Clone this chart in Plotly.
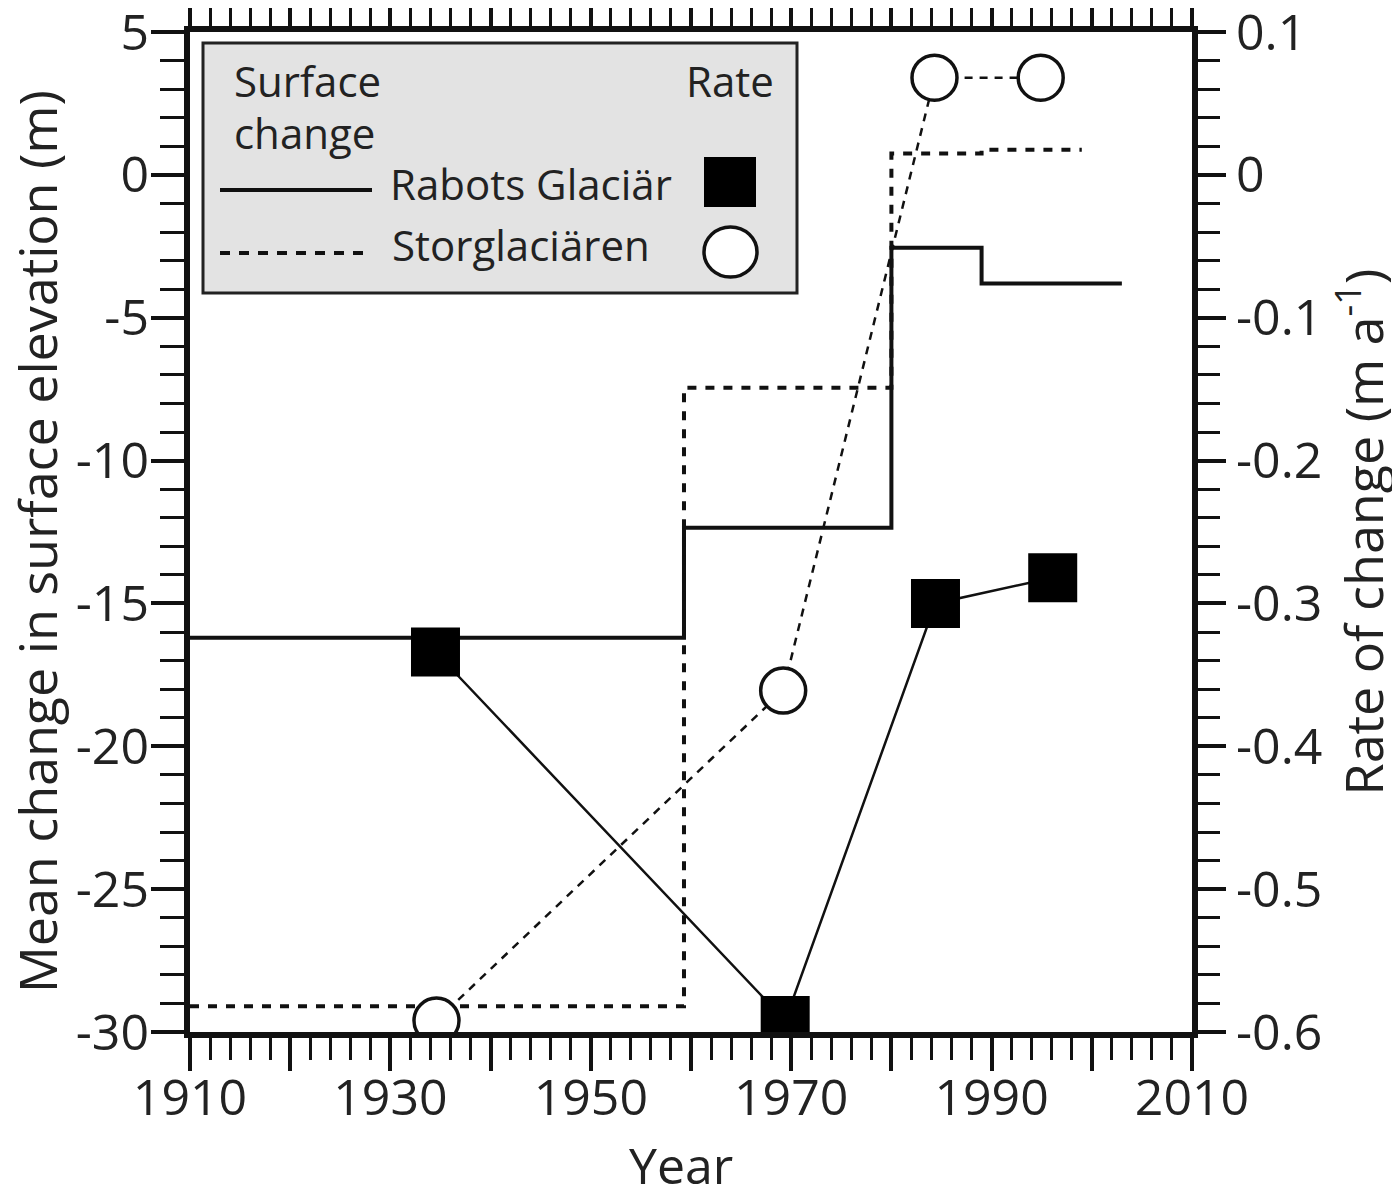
import plotly.graph_objects as go

# surface change (m), step series
rab_years = [1910, 1959.3, 1980, 1989, 2003]
rab_elev = [-16.2, -12.35, -2.55, -3.8, -3.8]
stor_years = [1910, 1959.3, 1980, 1989, 1999]
stor_elev = [-29.1, -7.45, 0.75, 0.88, 0.88]

# rate of change (m/a)
rab_rate_years = [1934.5, 1969.4, 1984.4, 1996.1]
rab_rate = [-0.334, -0.592, -0.300, -0.282]
stor_rate_years = [1934.6, 1969.2, 1984.3, 1994.9]
stor_rate = [-0.592, -0.361, 0.068, 0.068]

x_ticks = list(range(1910, 2011, 10))
x_labels = [str(v) if (v - 1910) % 20 == 0 else '' for v in x_ticks]
y_ticks = list(range(-30, 6, 5))
y_labels = [str(v) for v in y_ticks]
y2_ticks = [-0.6, -0.5, -0.4, -0.3, -0.2, -0.1, 0, 0.1]
y2_labels = ['-0.6', '-0.5', '-0.4', '-0.3', '-0.2', '-0.1', '0', '0.1']

FONT = 'Open Sans'
INK = '#111111'
TXT = '#222222'

# plot area in screen pixels; the page body adds an 8px offset
L, R, T, B = 190, 1192, 32, 1032
OFF = 8
W, H = 1400 - OFF, 1202 - OFF


def px(x):
    return (x - L) / (R - L)


def py(y):
    return (B - y) / (B - T)


fig = go.Figure()
fig.add_trace(go.Scatter(x=rab_years, y=rab_elev, mode='lines', line_shape='hv',
                         line=dict(color=INK, width=4), showlegend=False))
fig.add_trace(go.Scatter(x=stor_years, y=stor_elev, mode='lines', line_shape='hv',
                         line=dict(color=INK, width=4, dash='9px,9px'), showlegend=False))
fig.add_trace(go.Scatter(x=stor_rate_years, y=stor_rate, mode='lines+markers', yaxis='y2',
                         line=dict(color=INK, width=2.5, dash='8px,7px'),
                         marker=dict(symbol='circle', size=45, color='white',
                                     line=dict(color=INK, width=3.5)),
                         showlegend=False))
fig.add_trace(go.Scatter(x=rab_rate_years, y=rab_rate, mode='lines+markers', yaxis='y2',
                         line=dict(color=INK, width=2.5),
                         marker=dict(symbol='square', size=49, color='black',
                                     line=dict(width=0)),
                         showlegend=False))

# legend box drawn by hand
shapes = [
    dict(type='rect', xref='paper', yref='paper', x0=px(203), x1=px(797), y0=py(293), y1=py(43),
         fillcolor='#e3e3e3', line=dict(color='#222222', width=3), layer='below'),
    dict(type='line', xref='paper', yref='paper', x0=px(220), x1=px(372), y0=py(190), y1=py(190),
         line=dict(color=INK, width=4)),
    dict(type='line', xref='paper', yref='paper', x0=px(220), x1=px(372), y0=py(253), y1=py(253),
         line=dict(color=INK, width=4, dash='10px,9px')),
    dict(type='rect', xref='paper', yref='paper', x0=px(704), x1=px(756), y0=py(207), y1=py(157),
         fillcolor='black', line=dict(width=0)),
    dict(type='circle', xref='paper', yref='paper', x0=px(704), x1=px(757), y0=py(277), y1=py(227),
         fillcolor='white', line=dict(color=INK, width=3.5)),
]

ann_font = dict(family=FONT, size=42, color=TXT)
annotations = [
    dict(text='Surface', x=px(232), y=py(80), xanchor='left', yanchor='middle'),
    dict(text='change', x=px(232), y=py(133), xanchor='left', yanchor='middle'),
    dict(text='Rate', x=px(776), y=py(80), xanchor='right', yanchor='middle'),
    dict(text='Rabots Glaciär', x=px(388), y=py(183), xanchor='left', yanchor='middle'),
    dict(text='Storglaciären', x=px(390), y=py(245), xanchor='left', yanchor='middle'),
]
for a in annotations:
    a.update(xref='paper', yref='paper', showarrow=False, font=ann_font)
# axis titles placed by hand
annotations.append(dict(text='Year', x=px(681), y=py(1165), xref='paper', yref='paper',
                        xanchor='center', yanchor='middle', showarrow=False,
                        font=dict(family=FONT, size=50, color=TXT)))
annotations.append(dict(text='Mean change in surface elevation (m)', x=px(36), y=py(542),
                        xref='paper', yref='paper', textangle=-90,
                        xanchor='center', yanchor='middle', showarrow=False,
                        font=dict(family=FONT, size=52, color=TXT)))

tick_font = dict(family=FONT, size=50, color=TXT)
axis_common = dict(showline=True, linecolor=INK, linewidth=6, ticks='outside',
                   tickcolor=INK, tickwidth=3.5, showgrid=False, zeroline=False,
                   tickfont=tick_font, automargin=False, ticklabeloverflow='allow')

fig.update_layout(
    width=W, height=H,
    margin=dict(l=L - OFF, r=W - (R - OFF), t=T - OFF, b=H - (B - OFF), autoexpand=False),
    plot_bgcolor='white', paper_bgcolor='white',
    font=dict(family=FONT, color=TXT),
    shapes=shapes, annotations=annotations,
    xaxis=dict(range=[1910, 2010], tickvals=x_ticks, ticktext=x_labels, ticklen=33,
               mirror='ticks', ticklabelstandoff=-16,
               minor=dict(dtick=2, ticklen=22, tickwidth=3, tickcolor=INK, ticks='outside'),
               **axis_common),
    yaxis=dict(range=[-30, 5], tickvals=y_ticks, ticktext=y_labels, ticklen=33,
               ticklabelstandoff=-8,
               minor=dict(dtick=1, ticklen=24, tickwidth=3, tickcolor=INK, ticks='outside'),
               **axis_common),
    yaxis2=dict(range=[-0.6, 0.1], overlaying='y', side='right', tickvals=y2_ticks,
                ticktext=y2_labels, ticklen=28,
                minor=dict(dtick=0.02, ticklen=22, tickwidth=3, tickcolor=INK, ticks='outside'),
                title=dict(text='Rate of change (m a<sup>-1</sup>)',
                           font=dict(family=FONT, size=52, color=TXT), standoff=20),
                **axis_common),
)

fig.write_html("out.html")
